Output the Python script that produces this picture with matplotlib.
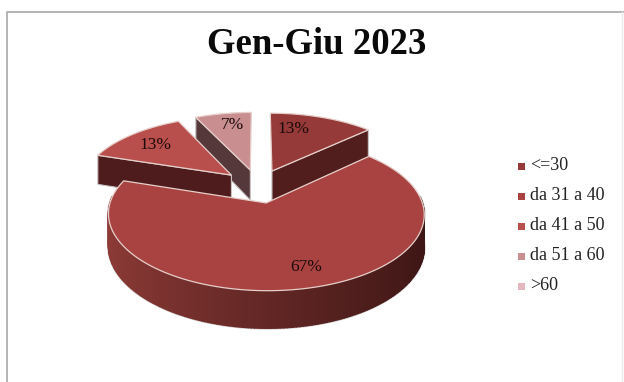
import numpy as np
import matplotlib
matplotlib.use("Agg")
import matplotlib.pyplot as plt
from matplotlib.patches import Polygon, Rectangle

title = "Gen-Giu 2023"
categories = ["<=30", "da 31 a 40", "da 41 a 50", "da 51 a 60", ">60"]
shares = [13, 67, 13, 7, 0]

top_colors = ["#953a38", "#a94341", "#b94f4d", "#c98e8f", "#e3b7bd"]
side_colors = ["#521e1d", "#4f1d1c", "#4e1c1c", "#55383a", "#6b4a4c"]

# projection of the tilted pie
CX, CY = 258, 186
AX, AY = 151, 70
PERSP = 0.1416
DEPTH = 31
EXPLODE = 0.24


def project(u, v, z=0.0):
    s = 1.0 / (1.0 + PERSP * v)
    return CX + AX * u * s, CY - AY * v * s + DEPTH * z * s


def mix(c1, c2, t):
    a = np.array(matplotlib.colors.to_rgb(c1))
    b = np.array(matplotlib.colors.to_rgb(c2))
    return tuple(a + (b - a) * t)


def draw_slice(ax, start, end, top, side, gradient=False):
    mid = (start + end) / 2
    ou, ov = EXPLODE * np.sin(mid), EXPLODE * np.cos(mid)
    t = np.linspace(start, end, 240)
    us, vs = ou + np.sin(t), ov + np.cos(t)

    # radial cut faces, only those turned towards the viewer
    cuts = [(us[0], vs[0], np.sin(start) < -1e-6), (us[-1], vs[-1], np.sin(end) > 1e-6)]
    for eu, ev, visible in cuts:
        if visible:
            face = [project(ou, ov), project(eu, ev), project(eu, ev, 1), project(ou, ov, 1)]
            ax.add_patch(Polygon(face, fc=side, ec="#c9c4c4", lw=0.8, zorder=2))

    # outer wall
    idx = np.where(vs - ov < 0.1)[0]
    if len(idx) > 1:
        lo = [project(us[i], vs[i], 1) for i in idx]
        hi = [project(us[i], vs[i]) for i in idx]
        ax.add_patch(Polygon(hi + lo[::-1], fc="none", ec="#d2cece", lw=2.0, zorder=2))
        for a, b in zip(idx[:-1], idx[1:]):
            c = side
            if gradient:
                x = (us[a] - ou + 1) / 2
                c = mix("#8e3b37", "#3d1615", x ** 0.9)
            quad = [project(us[a], vs[a]), project(us[b], vs[b]),
                    project(us[b], vs[b], 1), project(us[a], vs[a], 1)]
            ax.add_patch(Polygon(quad, fc=c, ec=c, lw=1.0, zorder=3))

    # top face
    pts = [project(ou, ov)] + [project(a, b) for a, b in zip(us, vs)]
    ax.add_patch(Polygon(pts, fc=top, ec="#e6cfca", lw=0.9, zorder=4))


fig = plt.figure(figsize=(6.24, 3.82), dpi=100)
ax = fig.add_axes([0, 0, 1, 1])
ax.set_xlim(0, 624)
ax.set_ylim(382, 0)
ax.axis("off")

# chart frame
ax.plot([624, 7, 7], [12, 12, 382], color="#a8a8a8", lw=1.2, zorder=1)
ax.plot([622, 622], [12, 382], color="#ececec", lw=1.0, zorder=1)

ax.text(317, 45, title, family="Liberation Serif", weight="bold", fontsize=26.5,
        ha="center", va="center", color="#0a0a0a")

total = sum(shares)
edges = 2 * np.pi * np.cumsum([0] + shares) / total
label_pos = [(293, 129), (306, 267), (155, 145), (233, 125)]

# far slices first, the large front slice last
for i in [3, 2, 0, 1]:
    draw_slice(ax, edges[i], edges[i + 1], top_colors[i], side_colors[i], gradient=(i == 1))
    ax.text(label_pos[i][0], label_pos[i][1], "%d%%" % shares[i], family="Liberation Serif",
            fontsize=12.5, ha="center", va="center", color="#1c0a0a", zorder=6)

# legend
for i, name in enumerate(categories):
    y = 166 + 30 * i
    ax.add_patch(Rectangle((518, y - 3.5), 7, 7, fc=top_colors[i], ec="none", zorder=5))
    ax.text(530, y, name, family="Liberation Serif", fontsize=13,
            ha="left", va="center", color="#222222")

fig.savefig("out.png", dpi=100)
